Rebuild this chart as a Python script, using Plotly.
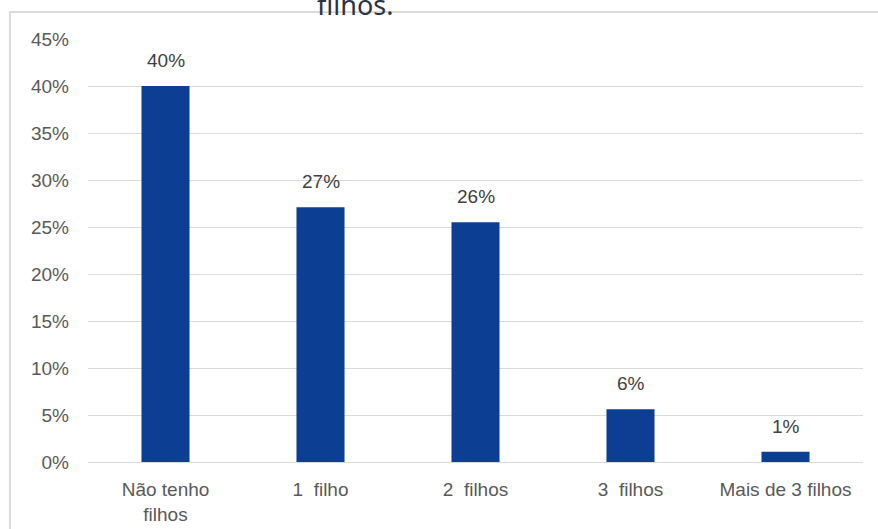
import plotly.graph_objects as go

categories = ["Não tenho<br>filhos", "1  filho", "2  filhos", "3  filhos", "Mais de 3 filhos"]
values = [40.0, 27.1, 25.5, 5.6, 1.1]
labels = ["40%", "27%", "26%", "6%", "1%"]
y_ticks = [0, 5, 10, 15, 20, 25, 30, 35, 40, 45]
y_tick_labels = ["0%", "5%", "10%", "15%", "20%", "25%", "30%", "35%", "40%", "45%"]

FONT = "Liberation Sans, Arial, sans-serif"
GREY = "#595959"

fig = go.Figure()
fig.add_trace(go.Bar(
    x=categories, y=values,
    marker=dict(color="#0C3F94", line=dict(width=0)),
    width=0.31,
    hoverinfo="skip",
))

for c, v, t in zip(categories, values, labels):
    fig.add_annotation(x=c, y=v, text=t, showarrow=False, yanchor="bottom",
                       yshift=13, font=dict(family=FONT, size=19, color="#404040"))

# partially visible title above the chart
fig.add_annotation(xref="paper", yref="paper", x=0.345, y=1.062, text="filhos.",
                   showarrow=False, yanchor="bottom", yshift=-12,
                   font=dict(family="Noto Sans, sans-serif", size=27, color="#2b3345"))

# chart frame
fig.add_shape(type="rect", xref="paper", yref="paper",
              x0=-0.1006, x1=1.08, y0=-0.3, y1=1.0638,
              line=dict(color="#d0d0d0", width=1.5), fillcolor="rgba(0,0,0,0)", layer="below")

fig.update_layout(
    width=878, height=529,
    margin=dict(l=88, r=15, t=39, b=67, autoexpand=False),
    paper_bgcolor="white", plot_bgcolor="white",
    showlegend=False,
    font=dict(family=FONT, size=19, color=GREY),
    xaxis=dict(showgrid=False, showline=False, zeroline=False, ticks="",
               ticklabelstandoff=14, automargin=False,
               tickfont=dict(family=FONT, size=19, color=GREY)),
    yaxis=dict(range=[0, 45], tickvals=y_ticks, ticktext=y_tick_labels,
               showgrid=True, gridcolor="#d9d9d9", gridwidth=1.3,
               zeroline=True, zerolinecolor="#d9d9d9", zerolinewidth=1.3,
               showline=False, ticks="", ticklabelstandoff=18, automargin=False,
               tickfont=dict(family=FONT, size=19, color=GREY)),
)

fig.write_html("out.html")
